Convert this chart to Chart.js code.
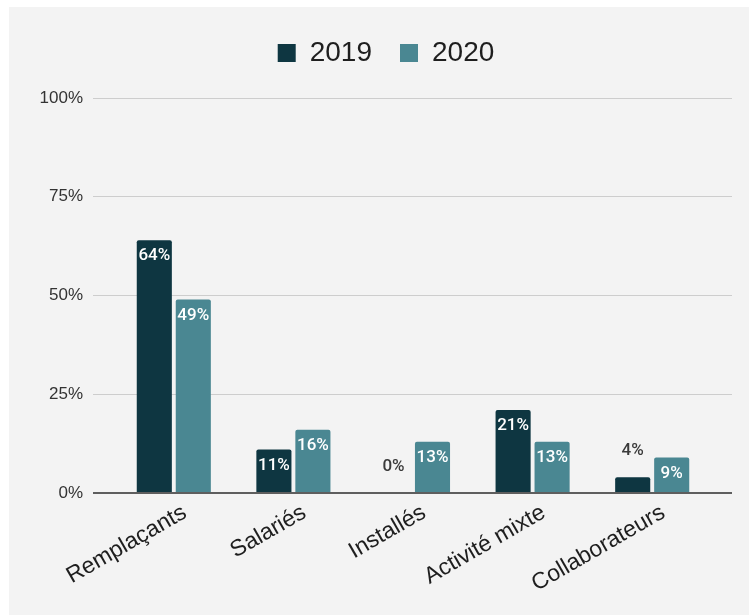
<!DOCTYPE html>
<html>
<head>
<meta charset="utf-8">
<script src="https://cdn.jsdelivr.net/npm/chart.js@4.4.1/dist/chart.umd.min.js"></script>
<style>
  html, body { margin: 0; padding: 0; background: #ffffff; }
  #panel { position: absolute; left: 9px; top: 7px; width: 740px; height: 608px; background: #f3f3f3; }
  canvas { display: block; }
</style>
</head>
<body>
<div id="panel"><canvas id="chart" width="740" height="608"></canvas></div>
<script>
// Share of respondents by status, 2019 vs 2020 (percent)
const categories = ['Remplaçants', 'Salariés', 'Installés', 'Activité mixte', 'Collaborateurs'];
const seriesLabels = ['2019', '2020'];
const values2019 = [64, 11, 0, 21, 4];
const values2020 = [49, 16, 13, 13, 9];
const yTickValues = [0, 25, 50, 75, 100];

const colors = ['#0e3641', '#4a8792'];

Chart.defaults.font.family = "'Liberation Sans', Arial, sans-serif";

const gridColor = (c) => (c.tick && c.tick.value === 0 ? '#5e5e5e' : '#cdcdcd');
const gridWidth = (c) => (c.tick && c.tick.value === 0 ? 2 : 1);
const useFixedTicks = (scale) => { scale.ticks = yTickValues.map(v => ({ value: v })); };

// Value labels: inside the top of tall bars, above short ones
const barValueLabels = {
  id: 'barValueLabels',
  afterDatasetsDraw(chart) {
    const ctx = chart.ctx;
    ctx.save();
    ctx.font = "500 17px Roboto, 'Liberation Sans', sans-serif";
    ctx.textAlign = 'center';
    ctx.textBaseline = 'middle';
    chart.data.datasets.forEach((ds, di) => {
      const meta = chart.getDatasetMeta(di);
      meta.data.forEach((bar, i) => {
        const text = ds.data[i] + '%';
        const h = bar.base - bar.y;
        if (h >= 30) {
          ctx.fillStyle = '#ffffff';
          ctx.fillText(text, bar.x, bar.y + 16);
        } else {
          ctx.fillStyle = '#3a3a3a';
          ctx.fillText(text, bar.x, bar.y - 26);
        }
      });
    });
    ctx.restore();
  }
};

new Chart(document.getElementById('chart'), {
  type: 'bar',
  data: {
    labels: categories,
    datasets: [
      { label: seriesLabels[0], data: values2019, backgroundColor: colors[0] },
      { label: seriesLabels[1], data: values2020, backgroundColor: colors[1] }
    ]
  },
  options: {
    responsive: false,
    animation: false,
    devicePixelRatio: 1,
    layout: { padding: { left: 14, top: 4, right: 0, bottom: 0 } },
    datasets: {
      bar: {
        categoryPercentage: 0.652,
        barPercentage: 0.9,
        borderRadius: 2,
        borderSkipped: 'start'
      }
    },
    plugins: {
      legend: {
        position: 'top',
        labels: {
          boxWidth: 18,
          boxHeight: 18,
          padding: 28,
          color: '#1e1e1e',
          font: { size: 28 }
        }
      },
      // spacer between the legend and the plot
      title: {
        display: true,
        text: '',
        weight: 500,
        padding: { top: 20, bottom: 0 },
        font: { size: 1, lineHeight: 1 }
      },
      tooltip: { enabled: false }
    },
    scales: {
      x: {
        grid: { display: false, drawTicks: false },
        border: { display: false },
        ticks: {
          color: '#1e1e1e',
          font: { size: 23 },
          minRotation: 30,
          maxRotation: 30,
          autoSkip: false,
          padding: 6,
          labelOffset: 11
        },
        afterFit: (s) => { s.height = 122; s.paddingLeft = 0; s.paddingRight = 0; }
      },
      y: {
        position: 'left',
        min: 0,
        max: 100,
        afterBuildTicks: useFixedTicks,
        grid: { color: gridColor, lineWidth: gridWidth, drawTicks: true, tickLength: 21 },
        border: { display: false },
        ticks: {
          color: '#333333',
          font: { size: 17 },
          padding: 10,
          callback: (v) => v + '%'
        },
        afterFit: (s) => { s.width = 91; }
      },
      yRight: {
        position: 'right',
        min: 0,
        max: 100,
        afterBuildTicks: useFixedTicks,
        grid: { color: gridColor, lineWidth: gridWidth, drawOnChartArea: false, drawTicks: true, tickLength: 20 },
        border: { display: false },
        ticks: { display: false },
        afterFit: (s) => { s.width = 37; }
      }
    }
  },
  plugins: [barValueLabels]
});
</script>
</body>
</html>
